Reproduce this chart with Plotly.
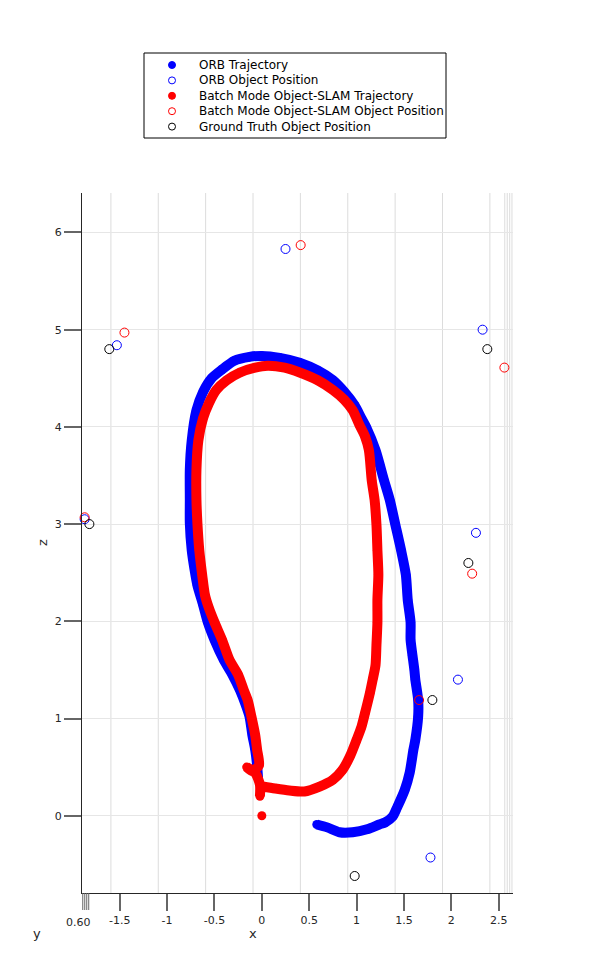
import plotly.graph_objects as go

# ORB trajectory (x, z)
orb_x = [-0.04, -0.05, -0.07, -0.10, -0.13, -0.17, -0.23, -0.31, -0.40, -0.50, -0.57, -0.62,
         -0.68, -0.71, -0.74, -0.76, -0.76, -0.76, -0.74, -0.69, -0.62, -0.53, -0.42, -0.29,
         -0.13, 0.00, 0.19, 0.40, 0.59, 0.75, 0.87, 0.98, 1.05, 1.10, 1.20, 1.29, 1.35, 1.41,
         1.47, 1.52, 1.54, 1.57, 1.57, 1.59, 1.61, 1.62, 1.65, 1.65, 1.62, 1.60, 1.56, 1.51,
         1.43, 1.38, 1.30, 1.24, 1.11, 0.96, 0.82, 0.69, 0.58]
orb_z = [0.39, 0.52, 0.68, 0.83, 1.02, 1.14, 1.29, 1.45, 1.60, 1.81, 1.99, 2.17,
         2.37, 2.53, 2.73, 3.01, 3.25, 3.56, 3.86, 4.17, 4.36, 4.50, 4.59, 4.68,
         4.72, 4.73, 4.71, 4.66, 4.58, 4.48, 4.36, 4.22, 4.09, 4.00, 3.76, 3.45, 3.25, 2.99,
         2.73, 2.48, 2.22, 1.99, 1.81, 1.65, 1.50, 1.40, 1.19, 1.02, 0.78, 0.68, 0.44, 0.27,
         0.09, -0.01, -0.07, -0.09, -0.14, -0.17, -0.17, -0.12, -0.09]

# batch mode object-SLAM trajectory (first pose sits alone at the origin)
batch_x = [0.00, None, -0.02, -0.02, -0.07, -0.16, -0.10, -0.03, -0.05, -0.07, -0.11, -0.15,
           -0.19, -0.25, -0.34, -0.42, -0.50, -0.56, -0.60, -0.63, -0.66, -0.68, -0.69, -0.69,
           -0.67, -0.62, -0.56, -0.48, -0.37, -0.23, -0.07, 0.06, 0.24, 0.40, 0.59, 0.75, 0.87,
           0.96, 1.03, 1.09, 1.13, 1.16, 1.19, 1.21, 1.22, 1.23, 1.22, 1.22, 1.21, 1.20, 1.17,
           1.14, 1.09, 1.05, 1.00, 0.93, 0.85, 0.75, 0.61, 0.45, 0.29, 0.14, 0.01]
batch_z = [0.00, None, 0.20, 0.32, 0.44, 0.50, 0.46, 0.52, 0.68, 0.83, 1.02, 1.19,
           1.29, 1.45, 1.60, 1.81, 1.99, 2.14, 2.27, 2.48, 2.73, 3.01, 3.25, 3.56,
           3.86, 4.09, 4.24, 4.38, 4.48, 4.56, 4.61, 4.63, 4.61, 4.56, 4.48, 4.38, 4.28,
           4.17, 4.02, 3.90, 3.76, 3.45, 3.25, 2.99, 2.73, 2.48, 2.22, 1.99, 1.76, 1.55, 1.40,
           1.26, 1.06, 0.91, 0.78, 0.61, 0.47, 0.37, 0.30, 0.25, 0.26, 0.28, 0.30]

# object positions
orb_obj_x = [0.25, -1.53, 2.33, -1.87, 2.26, 2.07, 1.78]
orb_obj_z = [5.83, 4.84, 5.00, 3.05, 2.91, 1.40, -0.43]
batch_obj_x = [0.41, -1.45, 2.56, -1.87, 2.22, 1.66, 0.95]
batch_obj_z = [5.87, 4.97, 4.61, 3.07, 2.49, 1.19, -0.80]
gt_obj_x = [0.18, -1.61, 2.38, -1.82, 2.18, 1.80, 0.98]
gt_obj_z = [6.41, 4.80, 4.80, 3.00, 2.60, 1.19, -0.62]

x_ticks = [-1.5, -1, -0.5, 0, 0.5, 1, 1.5, 2, 2.5]
x_tick_text = ["-1.5", "-1", "-0.5", "0", "0.5", "1", "1.5", "2", "2.5"]
z_ticks = [0, 1, 2, 3, 4, 5, 6]
y_ticks = [-1.890, -1.869, -1.848, -1.827]
# the y axis is seen edge-on, so its tick labels collapse into one smudge
y_tick_text = "0.60"
side_grid_x = [2.564, 2.590, 2.616, 2.640]

legend_names = ["ORB Trajectory", "ORB Object Position", "Batch Mode Object-SLAM Trajectory",
                "Batch Mode Object-SLAM Object Position", "Ground Truth Object Position"]
legend_colors = ["#0000ff", "#0000ff", "#ff0000", "#ff0000", "#000000"]
legend_filled = [True, False, True, False, False]

# the page body adds an 8px margin, so the figure is shrunk by that much
OFF = 8
W, H = 589 - OFF, 968 - OFF
L, R, T, B = 82 - OFF, 76, 193 - OFF, 75
PW, PH = W - L - R, H - T - B


def px(x):
    # screen pixel -> paper x
    return (x - OFF - L) / PW


def py(y):
    # screen pixel -> paper y
    return (OFF + T + PH - y) / PH


FONT = "DejaVu Sans"
fig = go.Figure()

fig.add_trace(go.Scatter(x=orb_x, y=orb_z, mode="lines+markers", name=legend_names[0],
                         line=dict(color="#0000ff", width=10, shape="spline", smoothing=0.7),
                         marker=dict(color="#0000ff", size=9)))
fig.add_trace(go.Scatter(x=orb_obj_x, y=orb_obj_z, mode="markers", name=legend_names[1],
                         cliponaxis=False,
                         marker=dict(symbol="circle-open", color="#0000ff", size=9,
                                     line=dict(width=1))))
fig.add_trace(go.Scatter(x=batch_x, y=batch_z, mode="lines+markers", name=legend_names[2],
                         connectgaps=False,
                         line=dict(color="#ff0000", width=10, shape="spline", smoothing=0.7),
                         marker=dict(color="#ff0000", size=9)))
fig.add_trace(go.Scatter(x=batch_obj_x, y=batch_obj_z, mode="markers", name=legend_names[3],
                         cliponaxis=False,
                         marker=dict(symbol="circle-open", color="#ff0000", size=9,
                                     line=dict(width=1))))
fig.add_trace(go.Scatter(x=gt_obj_x, y=gt_obj_z, mode="markers", name=legend_names[4],
                         cliponaxis=False,
                         marker=dict(symbol="circle-open", color="#000000", size=9,
                                     line=dict(width=1))))

shapes = []
# vertical grid on the (slightly rotated) back plane
for t in x_ticks:
    shapes.append(dict(type="line", xref="x", yref="paper", x0=t - 0.093, x1=t - 0.093,
                       y0=0, y1=1, layer="below", line=dict(color="#dcdcdc", width=1)))
for t in side_grid_x:
    shapes.append(dict(type="line", xref="x", yref="paper", x0=t, x1=t,
                       y0=0, y1=1, layer="below", line=dict(color="#dcdcdc", width=1)))
# collapsed y axis ticks
for t in y_ticks:
    shapes.append(dict(type="line", xref="x", yref="paper", x0=t, x1=t,
                       y0=0, y1=-17 / PH, line=dict(color="#666666", width=1)))

# legend box
shapes.append(dict(type="rect", xref="paper", yref="paper", x0=px(144), x1=px(446),
                   y0=py(138), y1=py(53), line=dict(color="#000000", width=1),
                   fillcolor="white"))
annotations = []
for i, (name, col, filled) in enumerate(zip(legend_names, legend_colors, legend_filled)):
    rowy = py(65 + 15.4 * i)
    shapes.append(dict(type="circle", xref="paper", yref="paper",
                       xsizemode="pixel", ysizemode="pixel",
                       xanchor=px(172), yanchor=rowy, x0=-3.5, x1=3.5, y0=-3.5, y1=3.5,
                       fillcolor=col if filled else "rgba(0,0,0,0)",
                       line=dict(color=col, width=1)))
    annotations.append(dict(text=name, xref="paper", yref="paper", x=px(197), y=rowy,
                            xanchor="left", yanchor="middle", showarrow=False,
                            font=dict(family=FONT, size=12, color="#000000")))

annotations.append(dict(text=y_tick_text, xref="paper", yref="paper", x=px(78), y=py(922),
                        xanchor="center", yanchor="middle", showarrow=False,
                        font=dict(family=FONT, size=11, color="#262626")))

for txt, xp, yp, ang in [("x", 253, 933, 0), ("y", 37, 933, 0), ("z", 42, 543, -90)]:
    annotations.append(dict(text=txt, xref="paper", yref="paper", x=px(xp), y=py(yp),
                            xanchor="center", yanchor="middle", textangle=ang,
                            showarrow=False,
                            font=dict(family=FONT, size=13, color="#262626")))

fig.update_layout(
    width=W, height=H,
    margin=dict(l=L, r=R, t=T, b=B),
    plot_bgcolor="white", paper_bgcolor="white",
    showlegend=False,
    shapes=shapes,
    annotations=annotations,
    font=dict(family=FONT, size=11, color="#262626"),
)
fig.update_xaxes(range=[-1.898, 2.651], tickvals=x_ticks, ticktext=x_tick_text,
                 showgrid=False, zeroline=False, showline=True, linecolor="#262626",
                 linewidth=1, ticks="outside", ticklen=17, tickwidth=1.5, tickcolor="#666666")
fig.update_yaxes(range=[-0.795, 6.406], tickvals=z_ticks,
                 showgrid=True, gridcolor="#e6e6e6", zeroline=False, showline=True,
                 linecolor="#262626", linewidth=1, ticks="outside", ticklen=17,
                 tickwidth=1.5, tickcolor="#666666")

fig.write_html("out.html")
